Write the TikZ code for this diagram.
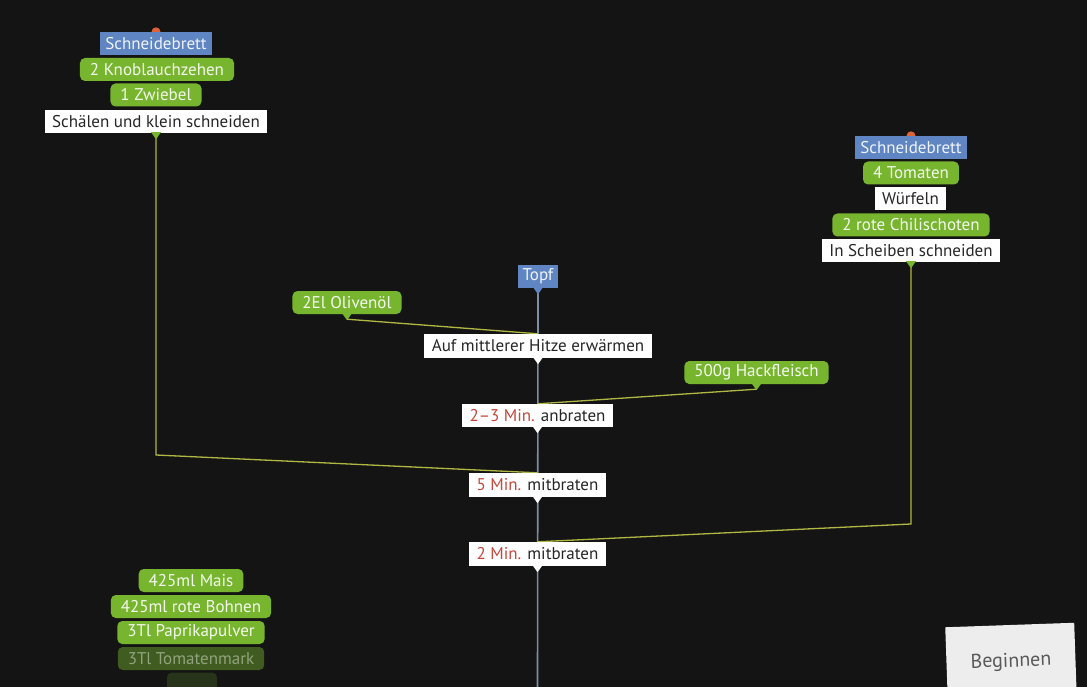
\documentclass[tikz,border=0pt]{standalone}
\usepackage{fontspec}
\setmainfont{PT Sans}
\usetikzlibrary{calc}
\definecolor{bgc}{HTML}{141414}
\definecolor{ingr}{HTML}{77B52F}
\definecolor{tool}{HTML}{5F86C2}
\definecolor{mins}{HTML}{C4473B}
\definecolor{wire}{HTML}{B0B844}
\definecolor{spine}{HTML}{7C8EA2}
\definecolor{dotc}{HTML}{DD6237}
\definecolor{btn}{HTML}{EDEDED}
\pgfdeclarelayer{bglayer}
\pgfdeclarelayer{lines}
\pgfsetlayers{bglayer,lines,main}
\tikzset{
  base/.style={font=\fontsize{17}{19}\selectfont, minimum height=23pt, inner xsep=6pt, inner ysep=0pt},
  ingbox/.style={base, inner xsep=10pt, fill=ingr, text=white!92!ingr, rounded corners=5pt},
  toolbox/.style={base, inner xsep=5pt, fill=tool, text=white!90!tool},
  stepbox/.style={base, inner xsep=7.5pt, fill=white, text=black!85},
  wireline/.style={draw=wire, line width=1.3pt},
  spineline/.style={draw=spine, line width=1.6pt},
  tipmark/.style={fill=#1},
  topdot/.style={fill=dotc},
  fadebox/.style={ingbox, opacity=#1}
}
\newcommand\downtip[2]{\fill[tipmark=#2] ($(#1)+(-5,-1)$) -- ($(#1)+(5,-1)$) -- ($(#1)+(0,6)$) -- cycle;}
\begin{document}
\begin{tikzpicture}[x=1pt,y=-1pt]
\begin{pgfonlayer}{bglayer}
\fill[bgc] (0,0) rectangle (1087,687);
\end{pgfonlayer}
\useasboundingbox (0,0) rectangle (1087,687);

% left stack
\node[toolbox] (lsb) at (156,43.5) {Schneidebrett};
\node[ingbox] (knob) at (157,69.5) {2 Knoblauchzehen};
\node[ingbox] (zwie) at (156,95) {1 Zwiebel};
\node[stepbox] (schael) at (156,121.5) {Schälen und klein schneiden};
\downtip{schael.south}{ingr}
\coordinate (ltip) at ($(schael.south)+(0,5)$);
\coordinate (lbend) at (156,455);

% right stack
\node[toolbox] (rsb) at (911,147.5) {Schneidebrett};
\node[ingbox] (toma) at (911,173) {4 Tomaten};
\node[stepbox] (wuerf) at (910.5,199) {Würfeln};
\node[ingbox] (chili) at (911,225) {2 rote Chilischoten};
\node[stepbox] (scheib) at (911,250.5) {In Scheiben schneiden};
\downtip{scheib.south}{ingr}
\coordinate (rtip) at ($(scheib.south)+(0,5)$);
\coordinate (rbend) at (911,524);

% centre
\node[toolbox] (topf) at (538,276.5) {Topf};
\downtip{topf.south}{tool}
\node[ingbox] (oel) at (347,302.5) {2El Olivenöl};
\downtip{oel.south}{ingr}
\coordinate (oeltip) at ($(oel.south)+(0,5)$);
\node[stepbox, minimum height=24pt] (auf) at (538,346) {Auf mittlerer Hitze erwärmen};
\downtip{auf.south}{white}
\node[ingbox] (hack) at (756.5,372.5) {500g Hackfleisch};
\downtip{hack.south}{ingr}
\coordinate (hacktip) at ($(hack.south)+(0,5)$);
\node[stepbox] (anb) at (537.5,415.5) {\textcolor{mins}{2–3 Min.} anbraten};
\downtip{anb.south}{white}
\node[stepbox, minimum height=24pt] (mit5) at (537.5,485) {\textcolor{mins}{5 Min.} mitbraten};
\downtip{mit5.south}{white}
\node[stepbox, minimum height=24pt] (mit2) at (537.5,554) {\textcolor{mins}{2 Min.} mitbraten};
\downtip{mit2.south}{white}
\coordinate (spineend) at (537.5,687);

% bottom-left stack
\node[ingbox] (mais) at (191,580.5) {425ml Mais};
\node[ingbox] (bohn) at (191,606.5) {425ml rote Bohnen};
\node[ingbox] (papr) at (191,632.5) {3Tl Paprikapulver};
\node[fadebox=0.45] (tmark) at (191,658.5) {3Tl Tomatenmark};
\node[fadebox=0.2, minimum width=50pt] (salz) at (192,684) {};

% button
\node[fill=btn, text=black!65, minimum width=129pt, minimum height=74pt, rotate=2,
      font=\fontsize{20}{22}\selectfont] (start) at (1011,662) {\raisebox{4pt}{Beginnen}};

\begin{pgfonlayer}{lines}
\fill[topdot] (lsb.north) circle (4.5);
\fill[topdot] (rsb.north) circle (4.5);
\draw[spineline] (topf.south) -- (spineend);
\draw[wireline] (ltip) -- (lbend) -- (mit5.north);
\draw[wireline] (rtip) -- (rbend) -- (mit2.north);
\draw[wireline] (oeltip) -- (auf.north);
\draw[wireline] (hacktip) -- (anb.north);
\end{pgfonlayer}
\end{tikzpicture}
\end{document}
